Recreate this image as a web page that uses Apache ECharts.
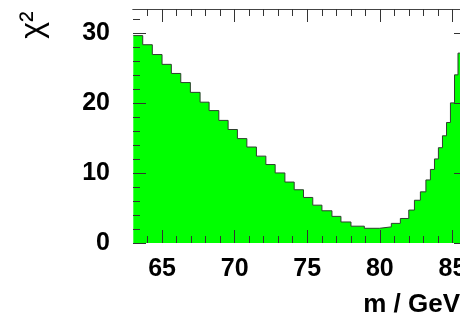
<!DOCTYPE html>
<html>
<head>
<meta charset="utf-8">
<script src="https://cdn.jsdelivr.net/npm/echarts@6/dist/echarts.min.js"></script>
<style>
html,body{margin:0;padding:0;background:#fff;}
#chart{width:460px;height:321px;}
</style>
</head>
<body>
<div id="chart"></div>
<script>
// bin edges (GeV) of the chi2 scan histogram, variable width
var binEdges = [63.02, 63.67, 64.33, 65.00, 65.64, 66.29, 66.95, 67.62, 68.24, 68.91,
	69.55, 70.19, 70.84, 71.50, 72.15, 72.79, 73.46, 74.10, 74.74, 75.38,
	76.01, 76.70, 77.32, 78.01, 78.93, 79.97, 80.79, 81.41, 81.99, 82.38,
	82.79, 83.17, 83.48, 83.76, 84.03, 84.31, 84.59, 84.86, 85.14, 85.38,
	85.72, 85.96];
// chi2 value of each bin
var chi2Values = [29.6, 28.3, 26.9, 25.5, 24.2, 22.9, 21.5, 20.1, 18.9, 17.5,
	16.2, 14.9, 13.7, 12.4, 11.2, 10.0, 8.7, 7.6, 6.5, 5.4,
	4.6, 3.8, 3.0, 2.4, 2.1, 2.3, 2.8, 3.5, 4.7, 6.1,
	7.3, 9.0, 10.5, 12.0, 13.6, 15.3, 17.2, 20.0, 24.0, 27.1,
	30.5];
// axis ticks
var xMajorTicks = [65, 70, 75, 80, 85];
var yMajorTicks = [0, 10, 20, 30];
var xRange = [63, 86];
var yRange = [0, 33.4];

var xMinorTicks = [];
for(var i = 64; i <= 86; i++)
{
	if(xMajorTicks.indexOf(i) == -1) xMinorTicks.push(i);
}
var yMinorTicks = [];
for(var j = 2; j <= 32; j += 2)
{
	if(yMajorTicks.indexOf(j) == -1) yMinorTicks.push(j);
}

// step points: each bin starts at its left edge, last point closes the final bin
var stepData = [];
for(var k = 0; k < chi2Values.length; k++)
{
	stepData.push([binEdges[k], chi2Values[k]]);
}
stepData.push([binEdges[binEdges.length - 1], chi2Values[chi2Values.length - 1]]);

var FONT = 'Liberation Sans';
var tickColor = '#333';
var gridRect = {left: 133, right: -7, top: 9, bottom: 78, containLabel: false, outerBoundsMode: 'none'};

//grid 0 : major ticks, grid 1 : minor ticks (one axis per side per grid)
function xAxisDef(grid, pos, ticks, len, labels)
{
	return {
		type: 'value', gridIndex: grid, position: pos, min: xRange[0], max: xRange[1], z: 5,
		axisLine: {show: pos == 'top', onZero: false, lineStyle: {color: '#444', width: 1}},
		axisTick: {show: true, inside: true, length: len, customValues: ticks, lineStyle: {color: tickColor, width: 1}},
		axisLabel: labels ? {show: true, customValues: ticks, margin: 14, fontSize: 25, fontWeight: 'bold', fontFamily: FONT, color: '#000'} : {show: false},
		splitLine: {show: false}
	};
}
function yAxisDef(grid, pos, ticks, len, labels)
{
	return {
		type: 'value', gridIndex: grid, position: pos, min: yRange[0], max: yRange[1], z: 5,
		axisLine: {show: false, onZero: false},
		axisTick: {show: true, inside: true, length: len, customValues: ticks, lineStyle: {color: tickColor, width: 1}},
		axisLabel: labels ? {show: true, customValues: ticks, margin: 23, fontSize: 25, fontWeight: 'bold', fontFamily: FONT, color: '#000'} : {show: false},
		splitLine: {show: false}
	};
}

var xBottom = xAxisDef(0, 'bottom', xMajorTicks, 13, true);
xBottom.name = 'm / GeV';
xBottom.nameLocation = 'end';
xBottom.nameGap = -7;
xBottom.nameTextStyle = {fontSize: 26, fontWeight: 'bold', fontFamily: FONT, color: '#000', align: 'right', verticalAlign: 'top', padding: [49, 0, 0, 0]};

var myChart = echarts.init(document.getElementById('chart'), null, {renderer: 'canvas'});
var option = {
	backgroundColor: '#fff',
	animation: false,
	grid: [gridRect, Object.assign({}, gridRect)],
	xAxis: [
		xBottom,
		xAxisDef(0, 'top', xMajorTicks, 13, false),
		xAxisDef(1, 'bottom', xMinorTicks, 7, false),
		xAxisDef(1, 'top', xMinorTicks, 7, false)
	],
	yAxis: [
		yAxisDef(0, 'left', yMajorTicks, 13, true),
		yAxisDef(0, 'right', yMajorTicks, 13, false),
		yAxisDef(1, 'left', yMinorTicks, 7, false),
		yAxisDef(1, 'right', yMinorTicks, 7, false)
	],
	graphic: [{
		type: 'text', x: 33, y: 25, rotation: Math.PI / 2,
		style: {text: 'χ²', fontSize: 32, fontFamily: FONT, fill: '#000', align: 'center', verticalAlign: 'middle'}
	}],
	series: [{
		type: 'line',
		xAxisIndex: 0, yAxisIndex: 0,
		step: 'end',
		symbol: 'none',
		z: 2,
		data: stepData,
		lineStyle: {color: '#2f3f2f', width: 1},
		areaStyle: {color: '#00ff00', opacity: 1}
	}]
};
myChart.setOption(option);
</script>
</body>
</html>
